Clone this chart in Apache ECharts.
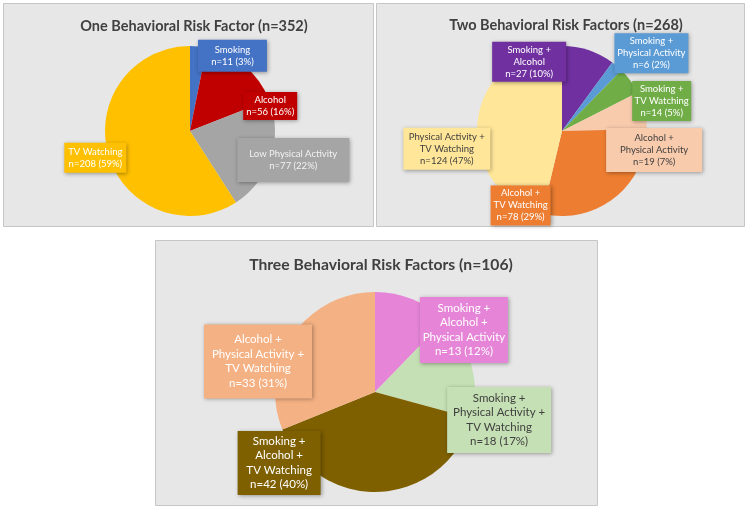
<!DOCTYPE html>
<html><head><meta charset="utf-8">
<script src="https://cdn.jsdelivr.net/npm/echarts@6/dist/echarts.min.js"></script>
<style>html,body{margin:0;padding:0;background:#fff}#c{width:748px;height:509px}</style>
</head><body><div id="c"></div>
<script>
// ---- data ----
const titles = ['One Behavioral Risk Factor (n=352)', 'Two Behavioral Risk Factors (n=268)', 'Three Behavioral Risk Factors (n=106)'];

const oneNames = ['Smoking', 'Alcohol', 'Low Physical Activity', 'TV Watching'];
const oneValues = [11, 56, 77, 208];
const onePct = ['3%', '16%', '22%', '59%'];

const twoNames = ['Smoking +\nAlcohol', 'Smoking +\nPhysical Activity', 'Smoking +\nTV Watching', 'Alcohol +\nPhysical Activity', 'Alcohol +\nTV Watching', 'Physical Activity +\nTV Watching'];
const twoValues = [27, 6, 14, 19, 78, 124];
const twoPct = ['10%', '2%', '5%', '7%', '29%', '47%'];

const threeNames = ['Smoking +\nAlcohol +\nPhysical Activity', 'Smoking +\nPhysical Activity +\nTV Watching', 'Smoking +\nAlcohol +\nTV Watching', 'Alcohol +\nPhysical Activity +\nTV Watching'];
const threeValues = [13, 18, 42, 33];
const threePct = ['12%', '17%', '40%', '31%'];

// ---- styles ----
const oneColors = ['#4472C4', '#C00000', '#A5A5A5', '#FFC000'];
const oneText = ['#fff', '#fff', '#f2f2f2', '#fff'];
const twoColors = ['#7030A0', '#5B9BD5', '#70AD47', '#F8CBAD', '#ED7D31', '#FFE699'];
const twoText = ['#fff', '#fff', '#fff', '#404040', '#fff', '#404040'];
const threeColors = ['#E685D8', '#C5E0B4', '#7F6000', '#F4B183'];
const threeText = ['#fff', '#404040', '#fff', '#fff'];

const FONT = 'Lato';

function buildData(names, values, pcts, colors, texts, pads, widths) {
  return names.map((n, i) => ({
    name: n,
    value: values[i],
    itemStyle: { color: colors[i] },
    label: {
      formatter: n + '\nn=' + values[i] + ' (' + pcts[i] + ')',
      color: texts[i],
      backgroundColor: colors[i],
      padding: pads[i],
      width: widths[i],
      overflow: 'none'
    }
  }));
}

function pieSeries(data, center, radius, fontSize, lineHeight, offsets) {
  return {
    type: 'pie',
    center: center,
    radius: radius,
    startAngle: 90,
    clockwise: true,
    animation: false,
    silent: true,
    label: {
      show: true,
      position: 'inside',
      fontFamily: FONT,
      fontSize: fontSize,
      lineHeight: lineHeight,
      align: 'center',
      overflow: 'none',
      shadowColor: 'rgba(0,0,0,0.35)',
      shadowBlur: 4,
      shadowOffsetX: 1,
      shadowOffsetY: 1
    },
    labelLine: { show: false },
    labelLayout: function (p) {
      const o = offsets[p.dataIndex];
      return { dx: o[0], dy: o[1] };
    },
    data: data
  };
}

const chart = echarts.init(document.getElementById('c'), null, { renderer: 'canvas' });

const panelStyle = { fill: '#e7e7e7', stroke: '#c6c6c6', lineWidth: 1 };

chart.setOption({
  backgroundColor: '#fff',
  graphic: [
    { type: 'rect', shape: { x: 3.5, y: 3.5, width: 370, height: 223 }, style: panelStyle, z: -10 },
    { type: 'rect', shape: { x: 376.5, y: 3.5, width: 368, height: 223 }, style: panelStyle, z: -10 },
    { type: 'rect', shape: { x: 155.5, y: 240.5, width: 442, height: 265 }, style: panelStyle, z: -10 }
  ],
  title: [
    { text: titles[0], left: 189, top: 14, textAlign: 'center', textStyle: { fontFamily: FONT, fontSize: 14.5, fontWeight: 'bold', color: '#404040' } },
    { text: titles[1], left: 561, top: 13, textAlign: 'center', textStyle: { fontFamily: FONT, fontSize: 14.5, fontWeight: 'bold', color: '#404040' } },
    { text: titles[2], left: 376, top: 252, textAlign: 'center', textStyle: { fontFamily: FONT, fontSize: 15.7, fontWeight: 'bold', color: '#404040' } }
  ],
  series: [
    pieSeries(
      buildData(oneNames, oneValues, onePct, oneColors, oneText,
        [[4, 4], [2, 3], [10, 8], [3, 3]], [61, 48, 96, 56]),
      [190, 131], 85, 9.5, 12,
      [[38, -30], [51, 10], [60, 15], [-51, 14]]),
    pieSeries(
      buildData(twoNames, twoValues, twoPct, twoColors, twoText,
        [[2, 3], [2, 3], [2, 3], [4, 4], [2, 3], [3, 3]], [68, 68, 53, 88, 54, 81]),
      [562, 131], 85, 9.5, 12,
      [[-47, -26], [60, -43], [63, -3], [48, 30], [-70, 39], [-70, 23]]),
    pieSeries(
      buildData(threeNames, threeValues, threePct, threeColors, threeText,
        [[4, 4], [4, 4], [3, 4], [8, 6]], [80, 96, 75, 96]),
      [375, 392], 100, 11.5, 14.5,
      [[69, -13], [73, 42], [-99, 18], [-73, -1]])
  ]
});
</script>
</body></html>
